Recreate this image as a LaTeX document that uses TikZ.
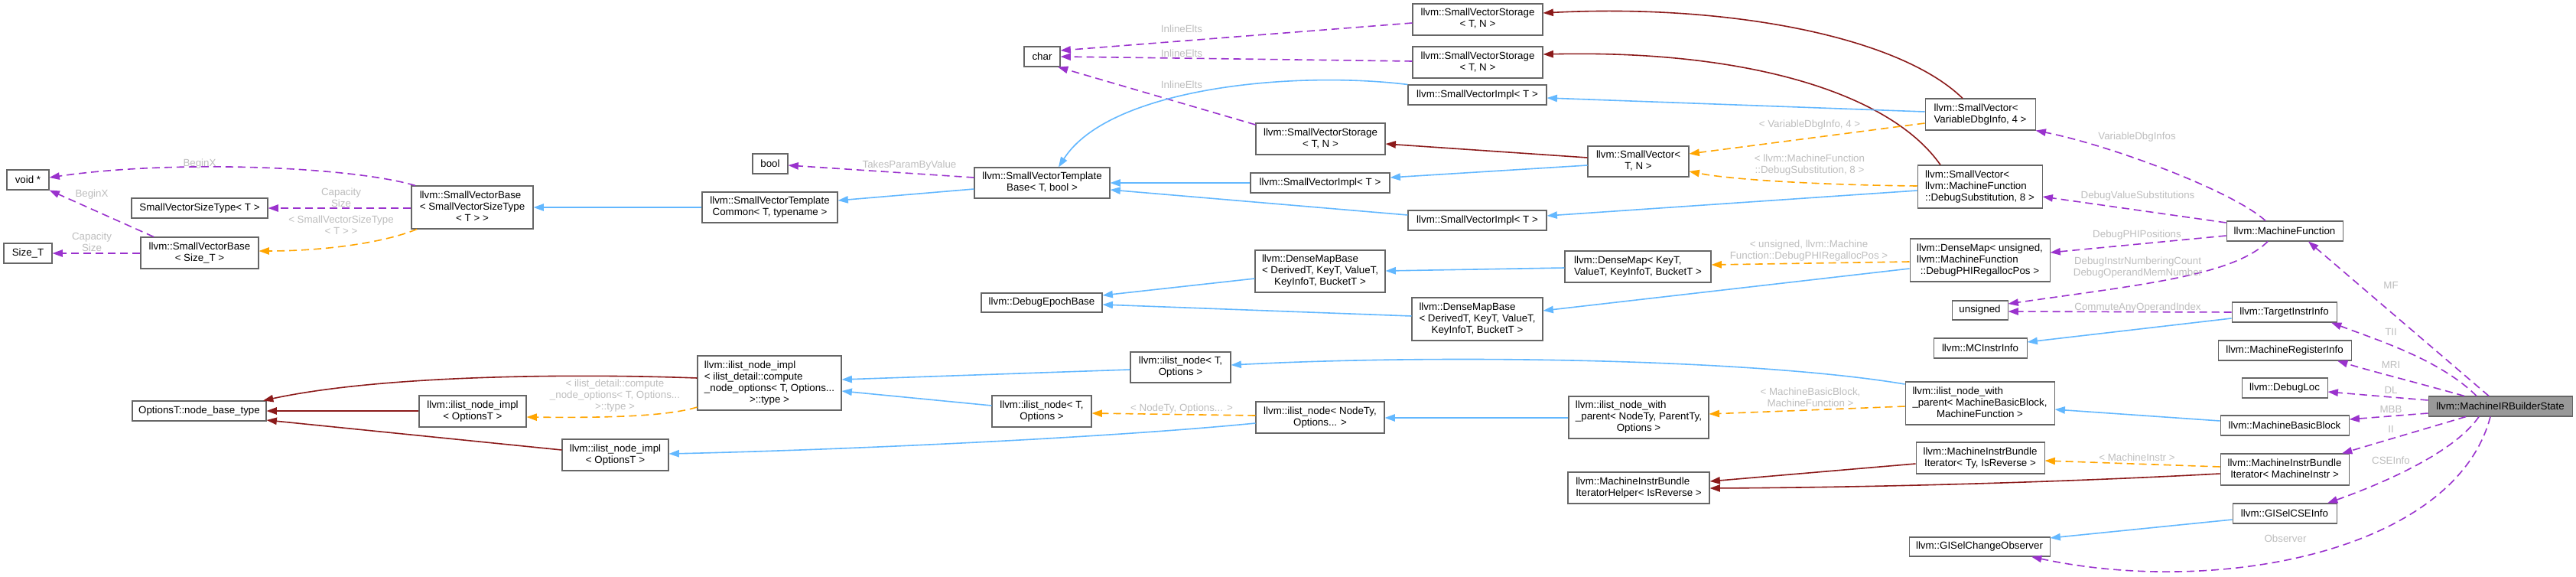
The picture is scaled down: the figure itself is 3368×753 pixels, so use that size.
\documentclass[tikz,border=0pt]{standalone}
\usepackage{fontspec}
\setmainfont{Liberation Sans}
\usetikzlibrary{arrows.meta,calc}
\definecolor{cblue}{HTML}{63B8FF}
\definecolor{cpurp}{HTML}{9A32CD}
\definecolor{corng}{HTML}{FFA500}
\definecolor{cred}{HTML}{8B1A1A}
\definecolor{cbord}{HTML}{666666}
\definecolor{clab}{HTML}{BEBEBE}
\definecolor{cfill}{HTML}{999999}
\newcommand\dxl[2]{\begin{tabular}{@{}l@{}}#1\\\multicolumn{1}{@{}c@{}}{#2}\end{tabular}}
\newcommand\bnode[7][]{%
  \pgfmathsetmacro\bw{(#5-#3)*0.75}\pgfmathsetmacro\bh{(#6-#4)*0.75}%
  \node[box,#1,minimum width=\bw pt,minimum height=\bh pt] (#2) at ({(#3+#5)/2},{(#4+#6)/2}) {#7};}
\tikzset{
  box/.style={draw=cbord, line width=0.8pt, fill=white, inner sep=0pt, font=\fontsize{10pt}{11.25pt}\selectfont, align=center},
  lab/.style={text=clab, inner sep=0pt, font=\fontsize{10pt}{11.25pt}\selectfont, align=center},
  edge/.style={line width=1.2pt, -{Triangle[length=10pt,width=7pt]}},
  inh/.style={edge, draw=cblue},
  usg/.style={edge, draw=cpurp, dash pattern=on 7.5pt off 4.5pt},
  tpl/.style={edge, draw=corng, dash pattern=on 7.5pt off 4.5pt},
  prv/.style={edge, draw=cred},
}
\begin{document}
\begin{tikzpicture}[x=0.75pt,y=-0.75pt]
\useasboundingbox (0,0) rectangle (3368,753);
\fill[white] (0,0) rectangle (3368,753);
% ---------- nodes ----------
\bnode{void}{9}{222}{64}{248}{void *}
\bnode{svst}{172}{259}{350}{285}{SmallVectorSizeType< T >}
\bnode{svbs}{538}{243}{697}{299}{\dxl{llvm::SmallVectorBase\\< SmallVectorSizeType}{< T > >}}
\bnode{svbz}{184}{310}{338}{351}{\dxl{llvm::SmallVectorBase}{< Size\_T >}}
\bnode{sizet}{5}{318}{68}{344}{Size\_T}
\bnode{obt}{173}{524}{348}{550}{OptionsT::node\_base\_type}
\bnode{inio1}{548}{517}{688}{558}{\dxl{llvm::ilist\_node\_impl}{< OptionsT >}}
\bnode{inio2}{735}{574}{874}{615}{\dxl{llvm::ilist\_node\_impl}{< OptionsT >}}
\bnode{char}{1339}{61}{1386}{87}{char}
\bnode{bool}{984}{201}{1030}{227}{bool}
\bnode{svtc}{918}{251}{1095}{291}{\dxl{llvm::SmallVectorTemplate}{Common< T, typename >}}
\bnode{svtb}{1274}{219}{1451}{259}{\dxl{llvm::SmallVectorTemplate}{Base< T, bool >}}
\bnode{svs1}{1847}{5}{2017}{46}{\dxl{llvm::SmallVectorStorage}{< T, N >}}
\bnode{svs2}{1847}{61}{2017}{102}{\dxl{llvm::SmallVectorStorage}{< T, N >}}
\bnode{svs3}{1642}{161}{1811}{202}{\dxl{llvm::SmallVectorStorage}{< T, N >}}
\bnode{svi1}{1841}{111}{2022}{137}{llvm::SmallVectorImpl< T >}
\bnode{svi2}{1635}{226}{1817}{252}{llvm::SmallVectorImpl< T >}
\bnode{svi3}{1841}{275}{2022}{301}{llvm::SmallVectorImpl< T >}
\bnode{svtn}{2076}{191}{2208}{231}{\dxl{llvm::SmallVector<}{T, N >}}
\bnode{svvdi}{2517}{129}{2661}{170}{\dxl{llvm::SmallVector<}{VariableDbgInfo, 4 >}}
\bnode{svds}{2507}{216}{2670}{272}{\dxl{llvm::SmallVector<\\llvm::MachineFunction}{::DebugSubstitution, 8 >}}
\bnode{dmu}{2497}{312}{2680}{368}{\dxl{llvm::DenseMap< unsigned,\\llvm::MachineFunction}{::DebugPHIRegallocPos >}}
\bnode{unsig}{2552}{393}{2625}{418}{unsigned}
\bnode{mcii}{2528}{442}{2650}{468}{llvm::MCInstrInfo}
\bnode{mf}{2911}{289}{3063}{315}{llvm::MachineFunction}
\bnode{tii}{2918}{395}{3055}{421}{llvm::TargetInstrInfo}
\bnode{mri}{2900}{445}{3074}{471}{llvm::MachineRegisterInfo}
\bnode{dmb1}{1641}{327}{1811}{382}{\dxl{llvm::DenseMapBase\\< DerivedT, KeyT, ValueT,}{KeyInfoT, BucketT >}}
\bnode{dmk}{2046}{328}{2237}{369}{\dxl{llvm::DenseMap< KeyT,}{ValueT, KeyInfoT, BucketT >}}
\bnode{dmb2}{1846}{389}{2017}{445}{\dxl{llvm::DenseMapBase\\< DerivedT, KeyT, ValueT,}{KeyInfoT, BucketT >}}
\bnode{deb}{1283}{383}{1441}{408}{llvm::DebugEpochBase}
\bnode{inic}{912}{465}{1100}{536}{\dxl{llvm::ilist\_node\_impl\\< ilist\_detail::compute\\\_node\_options< T, Options...}{>::type >}}
\bnode{in1}{1478}{460}{1609}{500}{\dxl{llvm::ilist\_node< T,}{Options >}}
\bnode{in2}{1297}{517}{1427}{558}{\dxl{llvm::ilist\_node< T,}{Options >}}
\bnode{innt}{1642}{525}{1810}{566}{\dxl{llvm::ilist\_node< NodeTy,}{Options... >}}
\bnode{inwp}{2051}{518}{2234}{573}{\dxl{llvm::ilist\_node\_with\\\_parent< NodeTy, ParentTy,}{Options >}}
\bnode{inwpm}{2491}{499}{2686}{555}{\dxl{llvm::ilist\_node\_with\\\_parent< MachineBasicBlock,}{MachineFunction >}}
\bnode{mibt}{2505}{578}{2673}{619}{\dxl{llvm::MachineInstrBundle}{Iterator< Ty, IsReverse >}}
\bnode{mibh}{2050}{617}{2235}{658}{\dxl{llvm::MachineInstrBundle}{IteratorHelper< IsReverse >}}
\bnode{gco}{2496}{702}{2680}{727}{llvm::GISelChangeObserver}
\bnode{dl}{2931}{494}{3043}{520}{llvm::DebugLoc}
\bnode{mbb}{2903}{543}{3071}{569}{llvm::MachineBasicBlock}
\bnode{mibm}{2903}{593}{3071}{634}{\dxl{llvm::MachineInstrBundle}{Iterator< MachineInstr >}}
\bnode{cse}{2919}{658}{3055}{684}{llvm::GISelCSEInfo}
\bnode[fill=cfill]{mirbs}{3175}{518}{3363}{544}{llvm::MachineIRBuilderState}
% ---------- edges ----------
\draw[usg] (svbs.north -| 543,0) .. controls (460,218) and (230,208) .. (void.east |- 0,232);
\draw[usg] (svbz.north -| 201,0) -- (void.south east);
\draw[usg] (svbs.west |- 0,272) -- (svst.east |- 0,272);
\draw[usg] (svbz.west |- 0,331) -- (sizet.east |- 0,331);
\draw[tpl] (svbs.south -| 545,0) .. controls (500,318) and (420,328) .. (svbz.east |- 0,328);
\draw[inh] (svtc.west |- 0,271) -- (svbs.east |- 0,271);
\draw[inh] (svtb.west |- 0,247) -- (svtc.east |- 0,262);
\draw[usg] (svtb.west |- 0,232) -- (bool.east |- 0,216);
\draw[usg] (svs1.west |- 0,30) -- (char.east |- 0,66);
\draw[usg] (svs2.west |- 0,80) -- (char.east |- 0,74);
\draw[usg] (svs3.west |- 0,163) -- (char.south -| 1383,0);
\draw[inh] (svi1.north west) .. controls (1690,92) and (1450,115) .. (svtb.north -| 1384,0);
\draw[inh] (svi2.west |- 0,239) -- (svtb.east |- 0,239);
\draw[inh] (svi3.west |- 0,281) -- (svtb.east |- 0,248);
\draw[prv] (svtn.west |- 0,206) -- (svs3.east |- 0,188);
\draw[inh] (svtn.west |- 0,216) -- (svi2.east |- 0,232);
\draw[prv] (svvdi.north -| 2566,0) .. controls (2480,45) and (2250,5) .. (svs1.east |- 0,17);
\draw[prv] (svds.north -| 2537,0) .. controls (2470,120) and (2280,65) .. (svs2.east |- 0,71);
\draw[inh] (svvdi.west |- 0,146) -- (svi1.east |- 0,128);
\draw[tpl] (svvdi.west |- 0,161) -- (svtn.east |- 0,201);
\draw[tpl] (svds.west |- 0,243) .. controls (2400,242) and (2270,236) .. (svtn.east |- 0,224);
\draw[inh] (svds.west |- 0,249) -- (svi3.east |- 0,282);
\draw[usg] (mf.north -| 2962,0) .. controls (2920,250) and (2760,190) .. (svvdi.south east);
\draw[usg] (mf.west |- 0,291) -- (svds.east |- 0,257);
\draw[usg] (mf.west |- 0,308) -- (dmu.east |- 0,330);
\draw[usg] (mf.south -| 2965,0) .. controls (2920,360) and (2800,372) .. (unsig.east |- 0,397);
\draw[usg] (tii.west |- 0,408) -- (unsig.east |- 0,407);
\draw[inh] (tii.west |- 0,416) -- (mcii.east |- 0,447);
\draw[tpl] (dmu.west |- 0,342) -- (dmk.east |- 0,346);
\draw[inh] (dmu.west |- 0,351) -- (dmb2.east |- 0,406);
\draw[inh] (dmk.west |- 0,350) -- (dmb1.east |- 0,354);
\draw[inh] (dmb1.west |- 0,364) -- (deb.east |- 0,386);
\draw[inh] (dmb2.west |- 0,413) -- (deb.east |- 0,398);
\draw[inh] (in1.west |- 0,483) -- (inic.east |- 0,496);
\draw[inh] (in2.west |- 0,530) -- (inic.east |- 0,511);
\draw[prv] (inic.west |- 0,494) .. controls (750,488) and (500,490) .. (obt.north -| 344,0);
\draw[tpl] (inic.west |- 0,532) .. controls (870,545) and (780,546) .. (inio1.east |- 0,545);
\draw[prv] (inio1.west |- 0,537) -- (obt.east |- 0,537);
\draw[prv] (inio2.west |- 0,588) -- (obt.east |- 0,549);
\draw[tpl] (innt.west |- 0,543) -- (in2.east |- 0,540);
\draw[inh] (innt.west |- 0,553) .. controls (1450,572) and (1100,588) .. (inio2.east |- 0,593);
\draw[inh] (inwp.west |- 0,546) -- (innt.east |- 0,546);
\draw[inh] (inwpm.west |- 0,502) .. controls (2300,470) and (1900,462) .. (in1.east |- 0,477);
\draw[tpl] (inwpm.west |- 0,531) -- (inwp.east |- 0,541);
\draw[prv] (mibt.west |- 0,606) -- (mibh.east |- 0,629);
\draw[prv] (mibm.west |- 0,619) .. controls (2700,630) and (2450,637) .. (mibh.east |- 0,638);
\draw[tpl] (mibm.west |- 0,610) -- (mibt.east |- 0,602);
\draw[inh] (mbb.west |- 0,550) -- (inwpm.east |- 0,535);
\draw[inh] (cse.west |- 0,679) -- (gco.east |- 0,703);
\draw[usg] (mirbs.north -| 3254,0) -- (mf.south -| 3018,0);
\draw[usg] (mirbs.north -| 3238,0) .. controls (3190,470) and (3110,445) .. (tii.south -| 3048,0);
\draw[usg] (mirbs.north -| 3222,0) .. controls (3160,500) and (3100,485) .. (mri.south -| 3056,0);
\draw[usg] (mirbs.west |- 0,523) -- (dl.east |- 0,512);
\draw[usg] (mirbs.west |- 0,540) -- (mbb.east |- 0,548);
\draw[usg] (mirbs.south -| 3224,0) -- (mibm.north -| 3062,0);
\draw[usg] (mirbs.south -| 3241,0) .. controls (3210,590) and (3120,630) .. (cse.north -| 3043,0);
\draw[usg] (mirbs.south -| 3256,0) .. controls (3210,720) and (2900,780) .. (gco.south -| 2656,0);
% ---------- labels ----------
\node[lab] (l1) at (261,214) {BeginX};
\node[lab] (l2) at (120,254) {BeginX};
\node[lab] (l3) at (446,258) {Capacity\\Size};
\node[lab] (l4) at (446,294) {< SmallVectorSizeType\\< T > >};
\node[lab] (l5) at (120,316) {Capacity\\Size};
\node[lab] (l6) at (804,517) {< ilist\_detail::compute\\\_node\_options< T, Options...\\>::type >};
\node[lab] (l7) at (1545,38) {InlineElts};
\node[lab] (l8) at (1545,70) {InlineElts};
\node[lab] (l9) at (1545,111) {InlineElts};
\node[lab] (l10) at (1189,216) {TakesParamByValue};
\node[lab] (l11) at (2366,163) {< VariableDbgInfo, 4 >};
\node[lab] (l12) at (2366,216) {< llvm::MachineFunction\\::DebugSubstitution, 8 >};
\node[lab] (l13) at (2365,328) {< unsigned, llvm::Machine\\Function::DebugPHIRegallocPos >};
\node[lab] (l14) at (2794,179) {VariableDbgInfos};
\node[lab] (l15) at (2795,256) {DebugValueSubstitutions};
\node[lab] (l16) at (2794,307) {DebugPHIPositions};
\node[lab] (l17) at (2795,350) {DebugInstrNumberingCount\\DebugOperandMemNumber};
\node[lab] (l18) at (2795,402) {CommuteAnyOperandIndex};
\node[lab] (l19) at (3126,373) {MF};
\node[lab] (l20) at (3126,434) {TII};
\node[lab] (l21) at (3126,477) {MRI};
\node[lab] (l22) at (3126,510) {DL};
\node[lab] (l23) at (3126,535) {MBB};
\node[lab] (l24) at (3126,561) {II};
\node[lab] (l25) at (3126,602) {CSEInfo};
\node[lab] (l26) at (2988,704) {Observer};
\node[lab] (l27) at (2794,598) {< MachineInstr >};
\node[lab] (l28) at (1545,534) {< NodeTy, Options... >};
\node[lab] (l29) at (2367,519) {< MachineBasicBlock,\\MachineFunction >};
\end{tikzpicture}
\end{document}
